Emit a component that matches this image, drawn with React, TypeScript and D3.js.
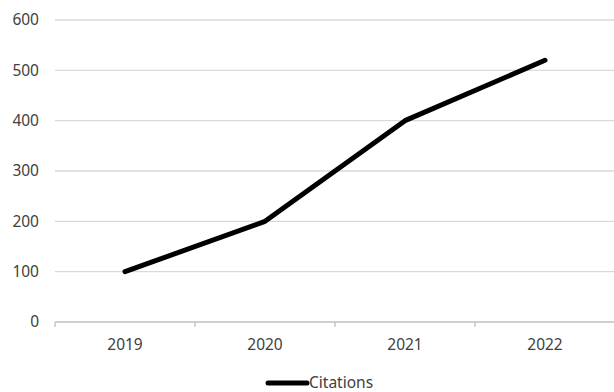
import React from "react";
import * as d3 from "d3";

const categories = ["2019", "2020", "2021", "2022"];
const citations = [100, 200, 400, 520];
const yTicks = [0, 100, 200, 300, 400, 500, 600];

export default function App() {
  const W = 614, H = 392;
  const left = 55, right = 615, top = 20, bottom = 322;
  const x = d3.scaleBand<string>().domain(categories).range([left, right]);
  const y = d3.scaleLinear().domain([0, 600]).range([bottom, top]);
  const line = d3
    .line<number>()
    .x((_, i) => (x(categories[i]) as number) + x.bandwidth() / 2)
    .y((d) => y(d));
  const font = "'Noto Sans', 'Open Sans', sans-serif";
  const fs = 15.5;
  const boundaries = [...categories.map((c) => x(c) as number), right];
  return (
    <svg width={W} height={H} style={{ position: "absolute", left: 0, top: 0, background: "#fff" }}>
      {yTicks.map((t) => (
        <g key={t}>
          {t > 0 && <line x1={left} x2={right} y1={y(t)} y2={y(t)} stroke="#d9d9d9" strokeWidth={1.3} />}
          <text x={39} y={y(t)} dy="0.35em" textAnchor="end" fontFamily={font} fontSize={fs} fill="#404040">
            {t}
          </text>
        </g>
      ))}
      <line x1={left} x2={right} y1={bottom} y2={bottom} stroke="#bfbfbf" strokeWidth={1.3} />
      {boundaries.map((b, i) => (
        <line key={i} x1={b} x2={b} y1={bottom} y2={bottom + 5} stroke="#bfbfbf" strokeWidth={1.3} />
      ))}
      {categories.map((c) => (
        <text
          key={c}
          x={(x(c) as number) + x.bandwidth() / 2}
          y={345}
          dy="0.35em"
          textAnchor="middle"
          fontFamily={font}
          fontSize={fs}
          fill="#404040"
        >
          {c}
        </text>
      ))}
      <path d={line(citations) || ""} fill="none" stroke="#000" strokeWidth={5} strokeLinejoin="round" strokeLinecap="round" />
      <line x1={268} x2={307} y1={383} y2={383} stroke="#000" strokeWidth={5} strokeLinecap="round" />
      <text x={309} y={383} dy="0.35em" fontFamily={font} fontSize={fs} fill="#404040">
        Citations
      </text>
    </svg>
  );
}
